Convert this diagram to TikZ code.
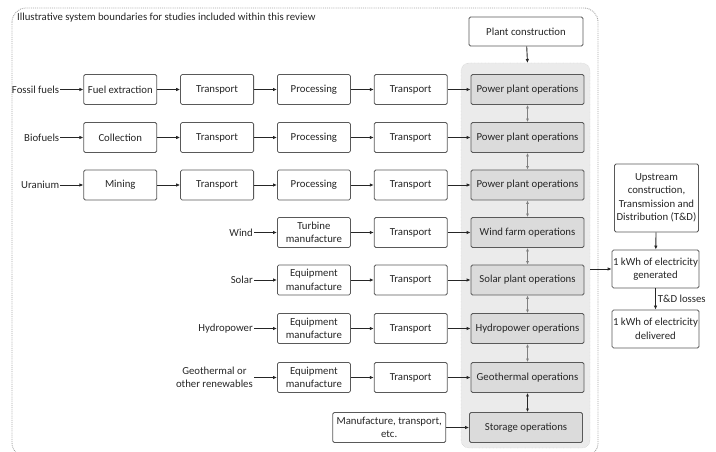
\documentclass[tikz,border=0pt]{standalone}
\usepackage{fontspec}
\setmainfont{Carlito}
\usetikzlibrary{arrows.meta, positioning}

\begin{document}
\begin{tikzpicture}[
    x=1bp, y=-1bp,
    font=\fontsize{10.8}{13.5}\selectfont,
    node distance=23bp,
    box/.style={rectangle, rounded corners=1.5bp, draw=black!65, line width=0.8bp, fill=white, minimum width=73bp, minimum height=30bp, align=center, inner sep=1bp, text=black!85},
    ops/.style={box, fill=black!14, minimum width=113bp},
    side/.style={box, minimum width=84bp, minimum height=38bp},
    src/.style={align=center, inner sep=1bp, text=black!85},
    arr/.style={-{Latex[length=4bp, width=3.5bp]}, line width=0.9bp, draw=black!85},
    link/.style={{Latex[length=3.5bp, width=3bp]}-{Latex[length=3.5bp, width=3bp]}, line width=0.9bp, draw=black!50},
  ]
    \useasboundingbox (0,0) rectangle (716,452);

    % system boundary
    \draw[black!35, densely dotted, line width=0.9bp, rounded corners=14bp] (12,8) rectangle (598,457);
    \node[anchor=north west, inner sep=0pt, text=black!85] (title) at (17,13) {Illustrative system boundaries for studies included within this review};

    % operations group
    \draw[black!25, densely dotted, fill=black!8, rounded corners=8bp] (461,63) rectangle (590,448);
    \coordinate (gtop) at (527.5,63);
    \coordinate (gright) at (590,269);

    \node[box, minimum width=114bp, minimum height=29bp] (plant) at (526,31.5) {Plant construction};
    \draw[arr] (plant) -- (gtop);

    % operations
    \node[ops] (op1) at (527.5,89.5) {Power plant operations};
    \node[ops] (op2) at (527.5,137.5) {Power plant operations};
    \node[ops] (op3) at (527.5,185) {Power plant operations};
    \node[ops] (op4) at (527.5,232.5) {Wind farm operations};
    \node[ops] (op5) at (527.5,280) {Solar plant operations};
    \node[ops] (op6) at (527.5,328.5) {Hydropower operations};
    \node[ops] (op7) at (527.5,377.5) {Geothermal operations};
    \node[ops] (op8) at (526,427.5) {Storage operations};

    % fossil fuels
    \node[box, left=of op1] (tr1) {Transport};
    \node[box, left=of tr1] (pr1) {Processing};
    \node[box, left=of pr1] (tf1) {Transport};
    \node[box, left=of tf1] (ext1) {Fuel extraction};
    \node[src, left=of ext1] (fossil) {Fossil fuels};

    % biofuels
    \node[box, left=of op2] (tr2) {Transport};
    \node[box, left=of tr2] (pr2) {Processing};
    \node[box, left=of pr2] (tf2) {Transport};
    \node[box, left=of tf2] (ext2) {Collection};
    \node[src, left=of ext2] (bio) {Biofuels};

    % uranium
    \node[box, left=of op3] (tr3) {Transport};
    \node[box, left=of tr3] (pr3) {Processing};
    \node[box, left=of pr3] (tf3) {Transport};
    \node[box, left=of tf3] (ext3) {Mining};
    \node[src, left=of ext3] (uran) {Uranium};

    % renewables
    \node[box, left=of op4] (tr4) {Transport};
    \node[box, left=of tr4] (man4) {Turbine\\manufacture};
    \node[src, left=of man4] (wind) {Wind};

    \node[box, left=of op5] (tr5) {Transport};
    \node[box, left=of tr5] (man5) {Equipment\\manufacture};
    \node[src, left=of man5] (solar) {Solar};

    \node[box, left=of op6] (tr6) {Transport};
    \node[box, left=of tr6] (man6) {Equipment\\manufacture};
    \node[src, left=of man6] (hydro) {Hydropower};

    \node[box, left=of op7] (tr7) {Transport};
    \node[box, left=of tr7] (man7) {Equipment\\manufacture};
    \node[src, left=of man7] (geo) {Geothermal or\\other renewables};

    % storage
    \node[box, minimum width=113bp, left=of op8] (stman) {Manufacture, transport,\\etc.};

    \foreach \a/\b in {fossil/ext1, ext1/tf1, tf1/pr1, pr1/tr1, tr1/op1,
                       bio/ext2, ext2/tf2, tf2/pr2, pr2/tr2, tr2/op2,
                       uran/ext3, ext3/tf3, tf3/pr3, pr3/tr3, tr3/op3,
                       wind/man4, man4/tr4, tr4/op4,
                       solar/man5, man5/tr5, tr5/op5,
                       hydro/man6, man6/tr6, tr6/op6,
                       geo/man7, man7/tr7, tr7/op7,
                       stman/op8}
      \draw[arr] (\a) -- (\b);

    \foreach \a/\b in {op1/op2, op2/op3, op3/op4, op4/op5, op5/op6, op6/op7}
      \draw[link] (\a) -- (\b);
    \draw[link, draw=black!85] (op7.south) -- (op7.south |- op8.north);

    % electricity output
    \node[side, minimum height=68bp] (up) at (656.5,198) {Upstream\\construction,\\Transmission and\\Distribution (T\&D)};
    \node[side] (gen) at (655.5,269) {1 kWh of electricity\\generated};
    \node[side] (del) at (655.5,329) {1 kWh of electricity\\delivered};

    \draw[arr] (gright) -- (gen);
    \draw[arr] (up) -- (gen);
    \draw[arr] (gen) -- node[right, inner sep=2bp, text=black!85] {T\&D losses} (del);
  \end{tikzpicture}
\end{document}
